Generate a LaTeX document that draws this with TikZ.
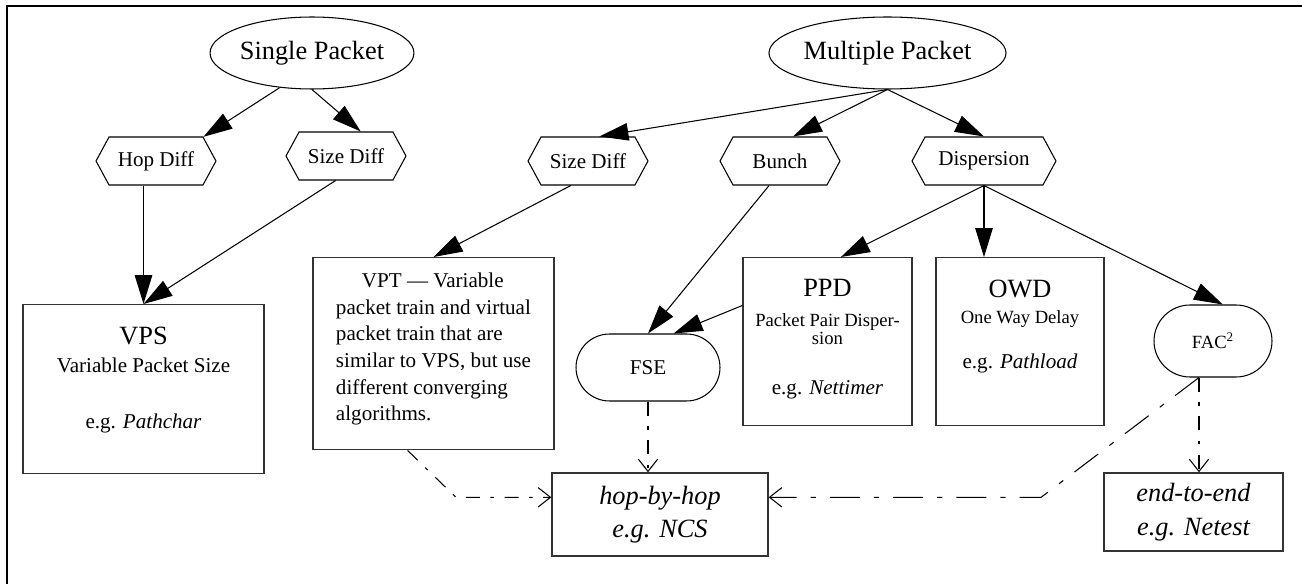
\documentclass[tikz,border=0pt]{standalone}
\usepackage{fontspec}
\setmainfont{Liberation Serif}
\usetikzlibrary{arrows.meta,shapes.geometric,shapes.symbols,shapes.misc}
\newcommand\lgfont{\fontsize{15}{15}\selectfont}
\newcommand\smfont{\fontsize{10.6}{12}\selectfont}
\begin{document}
\begin{tikzpicture}[x=0.02cm, y=-0.02cm,
  oval/.style={draw, line width=0.6pt, ellipse, inner sep=0pt, minimum width=3.83cm,
               minimum height=1.44cm, font=\fontsize{15}{18}\selectfont},
  hexa/.style={draw, line width=0.6pt, signal, signal to=east and west,
               signal pointer angle=123, inner sep=0pt, minimum width=#1,
               minimum height=0.96cm, font=\fontsize{12}{14}\selectfont},
  hexa/.default=2.4cm,
  pill/.style={draw, line width=0.6pt, rounded rectangle, inner sep=0pt},
  card/.style={draw=black!80, line width=0.8pt, inner sep=0pt, align=center},
  line/.style={-{Triangle[length=16.5pt,width=10pt]}, line width=0.6pt},
  dd/.style={-{Straight Barb[length=7pt,width=11pt]}, line width=0.6pt,
             dash pattern=on 8pt off 6pt on 2pt off 6pt},
  ddlong/.style={dd, dash pattern=on 17pt off 8pt on 3pt off 8pt}
]
\useasboundingbox (0,0) rectangle (1302,584);
\draw[line width=1pt] (1302,6) -- (7,6) -- (7,584);

\node[oval]  (sp)    at (312,53)   {Single Packet};
\node[oval]  (mp)    at (887.5,53) {Multiple Packet};
\node[hexa]  (hop)   at (156,161)  {Hop Diff};
\node[hexa]  (sdl)   at (346,156)  {Size Diff};
\node[hexa]  (sdm)   at (588,161)  {Size Diff};
\node[hexa]  (bunch) at (780,161)  {Bunch};
\node[hexa=2.88cm] (disp) at (984,161) {Dispersion};

\node[card, anchor=north, minimum width=4.82cm, text height=70.6pt, text depth=25.6pt,
      font=\fontsize{12}{16.3}\selectfont] (vps) at (143.5,304)
  {{\lgfont VPS}\\ Variable Packet Size\\[15.5pt] e.g. \textit{Pathchar}};
\node[card, anchor=north, align=left, minimum width=4.82cm,
      text height=92.9pt, text depth=16.4pt, font=\fontsize{12}{15.2}\selectfont] (vpt) at (433.5,257)
  {\hspace*{14.8pt}VPT --- Variable\\ packet train and virtual\\
   packet train that are\\ similar to VPS, but use\\
   different converging\\ algorithms.};
\node[card, anchor=north, minimum width=3.38cm, text height=78pt, text depth=17.6pt,
      font=\fontsize{12}{17}\selectfont] (ppd) at (827.5,257)
  {{\lgfont PPD}\\ {\smfont Packet Pair Disper-}\\[-6.8pt] {\smfont sion}\\[11.5pt]
   e.g. \textit{Nettimer}};
\node[card, anchor=north, minimum width=3.36cm, text height=63.2pt, text depth=32.4pt,
      font=\fontsize{12}{14.8}\selectfont] (owd) at (1020,257)
  {{\lgfont OWD}\\ {\smfont One Way Delay}\\[10.8pt] e.g. \textit{Pathload}};
\node[pill, minimum width=2.88cm, minimum height=1.34cm, font=\fontsize{12}{14}\selectfont]
  (fse) at (648,367.5) {FSE};
\node[pill, minimum width=2.36cm, minimum height=1.44cm, font=\smfont]
  (fac) at (1213,341) {FAC\textsuperscript{2}};
\node[card, minimum width=4.32cm, minimum height=1.66cm,
      font=\fontsize{15}{19}\selectfont\itshape] (hbh) at (660,514.5) {hop-by-hop\\ e.g. NCS};
\node[card, minimum width=3.58cm, minimum height=1.56cm,
      font=\fontsize{15}{19}\selectfont\itshape] (e2e) at (1193.5,512) {end-to-end\\ e.g. Netest};

\coordinate (k1) at (456,497.4);
\coordinate (k2) at (1041,497.4);

\draw[line] (sp.227) -- (hop.27);
\draw[line] (sp.south) -- (sdl.59);
\draw[line] (mp.south) -- (sdm.65);
\draw[line] (mp.south) -- (bunch.62);
\draw[line] (mp.south) -- (disp.north);
\draw[line] (hop.south -| vps.north) -- (vps.north);
\draw[line] (sdl.247) -- (vps.north);
\draw[line] (sdm.235) -- (vpt.north);
\draw[line] (bunch.246) -- (fse.north);
\draw[line] (ppd.157) -- (fse.53);
\draw[line] (disp.south) -- (ppd.81);
\draw[line] (disp.south) -- (disp.south |- owd.north);
\draw[line] (disp.south) -- (fac.75);
\draw[dd] (fse.south) -- (fse.south |- hbh.north);
\draw[dd] (vpt.255) -- (k1) -- (hbh.171);
\draw[dd] (fac.249) -- (fac.249 |- e2e.north);
\draw[ddlong] (fac.249) -- (k2) -- (hbh.9);
\end{tikzpicture}
\end{document}
